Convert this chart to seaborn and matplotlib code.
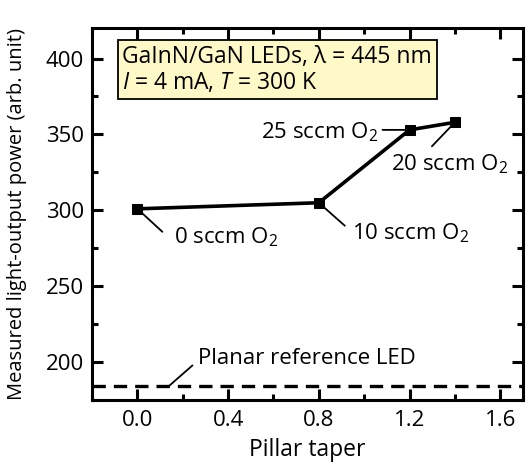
import matplotlib
matplotlib.use("Agg")
import matplotlib.pyplot as plt
import seaborn as sns
from matplotlib.ticker import MultipleLocator

# Data
taper = [0.0, 0.8, 1.2, 1.4]
power = [301, 305, 353, 358]
labels = ["0 sccm O$_2$", "10 sccm O$_2$", "25 sccm O$_2$", "20 sccm O$_2$"]
planar_ref = 184

sns.set_theme(style="ticks")
plt.rcParams["font.family"] = ["Open Sans", "DejaVu Sans"]
plt.rcParams["mathtext.fontset"] = "custom"
plt.rcParams["mathtext.rm"] = "Open Sans"
plt.rcParams["mathtext.it"] = "Open Sans:italic"
plt.rcParams["axes.linewidth"] = 2.2
plt.rcParams["xtick.direction"] = "in"
plt.rcParams["ytick.direction"] = "in"
for key in ["axes.edgecolor", "axes.labelcolor", "text.color",
            "xtick.color", "ytick.color", "xtick.labelcolor", "ytick.labelcolor"]:
    plt.rcParams[key] = "black"

fig = plt.figure(figsize=(5.32, 4.62), dpi=100)
ax = fig.add_axes([0.173, 0.134, 0.81, 0.805])

sns.lineplot(x=taper, y=power, ax=ax, color="black", lw=2.6,
             marker="s", markersize=7, markeredgecolor="black")
ax.axhline(planar_ref, color="black", lw=2.4, dashes=(4, 2.4))

ax.set_xlim(-0.2, 1.7)
ax.set_ylim(175, 420)
ax.xaxis.set_major_locator(MultipleLocator(0.4))
ax.xaxis.set_minor_locator(MultipleLocator(0.2))
ax.yaxis.set_major_locator(MultipleLocator(50))
ax.yaxis.set_minor_locator(MultipleLocator(25))
ax.set_xticks([0.0, 0.4, 0.8, 1.2, 1.6])
ax.set_xticklabels(["0.0", "0.4", "0.8", "1.2", "1.6"])
ax.tick_params(which="both", direction="in", top=True, right=True, width=2.2,
               labelsize=16, colors="black")
ax.tick_params(axis="x", pad=7)
ax.tick_params(axis="y", pad=6)
ax.tick_params(which="major", length=8)
ax.tick_params(which="minor", length=4)

ax.set_xlabel("Pillar taper", fontsize=16.5, labelpad=5)
ax.set_ylabel("Measured light-output power (arb. unit)", fontsize=14.5)
ax.yaxis.set_label_coords(-0.15, 0.5)

# annotations: (line end offset, text offset, ha) in pixels
offsets = [((25, -23), (37, -28), "left"),
           ((26, -23), (33, -30), "left"),
           ((-27, 0), (-32, -2), "right"),
           ((-23, -24), (-64, -42), "left")]
for x, y, lab, (lend, toff, ha) in zip(taper, power, labels, offsets):
    ax.annotate("", xy=(x, y), xytext=lend, textcoords="offset pixels",
                arrowprops=dict(arrowstyle="-", color="black", lw=1.3, shrinkA=0, shrinkB=0))
    ax.annotate(lab, xy=(x, y), xytext=toff, textcoords="offset pixels",
                ha=ha, va="center", fontsize=16)

ax.annotate("", xy=(0.137, planar_ref), xytext=(24, 21), textcoords="offset pixels",
            arrowprops=dict(arrowstyle="-", color="black", lw=1.3, shrinkA=0, shrinkB=0))
ax.annotate("Planar reference LED", xy=(0.137, planar_ref), xytext=(30, 28),
            textcoords="offset pixels", ha="left", va="center", fontsize=16)

ax.text(0.07, 0.955, "GaInN/GaN LEDs, λ = 445 nm\n$I$ = 4 mA, $T$ = 300 K",
        transform=ax.transAxes, ha="left", va="top", fontsize=16.5, linespacing=1.1,
        bbox=dict(boxstyle="square,pad=0.2", facecolor="#fff9c8", edgecolor="black", lw=1.3))

fig.savefig("out.png", dpi=100)
